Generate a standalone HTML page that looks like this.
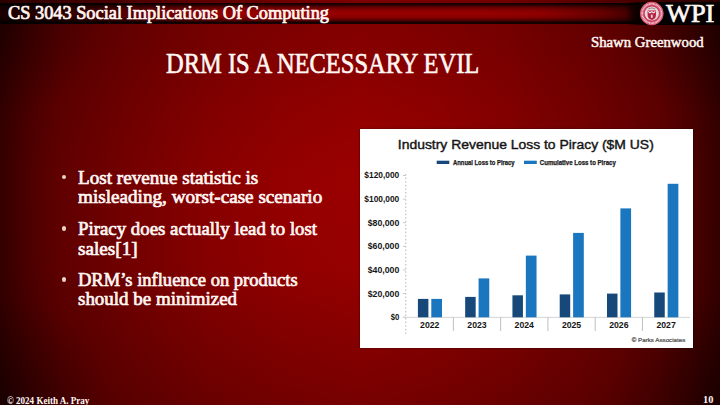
<!DOCTYPE html>
<html><head><meta charset="utf-8">
<style>
html,body{margin:0;padding:0;}
body{width:720px;height:405px;overflow:hidden;position:relative;background:radial-gradient(circle 110px at 0 100%, rgba(0,0,0,.35), rgba(0,0,0,0)), radial-gradient(circle 110px at 100% 100%, rgba(0,0,0,.35), rgba(0,0,0,0)), radial-gradient(circle 100px at 0 20px, rgba(0,0,0,.3), rgba(0,0,0,0)), radial-gradient(circle 100px at 100% 20px, rgba(0,0,0,.3), rgba(0,0,0,0)), linear-gradient(180deg, rgba(0,0,0,.17) 0px, rgba(0,0,0,.14) 36px, rgba(0,0,0,.06) 105px, rgba(0,0,0,0) 175px, rgba(0,0,0,.02) 265px, rgba(0,0,0,.2) 385px, rgba(0,0,0,.23) 405px), linear-gradient(90deg, #340000 0px, #4e0000 30px, #600000 60px, #760000 135px, #880000 210px, #940000 285px, #9a0000 360px, #940000 435px, #880000 510px, #760000 585px, #600000 660px, #4e0000 690px, #340000 720px);font-family:"Liberation Serif", serif;color:#fff;}
.t{position:absolute;white-space:nowrap;line-height:1;transform-origin:0 0;}
#bar{position:absolute;left:0;top:0;width:720px;height:25px;}
#bar .top{position:absolute;left:0;top:0;width:720px;height:3px;background:linear-gradient(90deg,#2a0000,#5a0000 25%,#7e0000 50%,#720000 70%,#500000 85%,#2a0000);}
#bar .band{position:absolute;left:0;top:3px;width:720px;height:21px;background:linear-gradient(180deg,#100000 0px,#200000 1.5px,#600000 4px,#880000 7px,#980000 10.5px,#8c0000 14px,#500000 17.5px,#100000 19.5px,#180000 20.5px,#400000 21px);}
#bar .hshade{position:absolute;left:0;top:3px;width:720px;height:21px;background:linear-gradient(90deg,rgba(0,0,0,.82) 0px,rgba(0,0,0,.72) 60px,rgba(0,0,0,.45) 120px,rgba(0,0,0,.18) 180px,rgba(0,0,0,0) 235px,rgba(0,0,0,0) 480px,rgba(0,0,0,.05) 540px,rgba(0,0,0,.3) 600px,rgba(0,0,0,.5) 625px,rgba(0,0,0,.9) 640px,rgba(0,0,0,.95) 720px);}
.bul{position:absolute;width:4.6px;height:4.6px;border-radius:50%;background:#ecd2c4;}
#chart{position:absolute;left:360px;top:129px;width:333px;height:219px;background:#fff;box-shadow:0 0 2px rgba(0,0,0,.6);}
#chart text{font-family:"Liberation Sans", sans-serif;font-weight:bold;fill:#151515;}
.ct{font-size:12.8px;font-weight:normal !important;stroke:#151515;stroke-width:0.4px;}
.lg{font-size:6.3px;fill:#1a1a1a !important;stroke:#1a1a1a;stroke-width:0.25px;}
.yl{font-size:8.4px;}
.xl{font-size:8.7px;}
.pa{font-size:5.6px;font-weight:normal !important;fill:#4a4a4a !important;stroke:#4a4a4a;stroke-width:0.2px;}
</style></head>
<body>
<div id="bar"><div class="top"></div><div class="band"></div><div class="hshade"></div></div>
<div class="t" id="hdr" style="left:7.8px;top:4.79px;font-size:17.8px;font-weight:normal;transform:scale(1.03,1.0);-webkit-text-stroke:0.7px #fff7f4;color:#fff7f4;">CS 3043 Social Implications Of Computing</div>
<div style="position:absolute;left:626px;top:2px;width:94px;height:23px;background:linear-gradient(90deg,rgba(8,0,0,0),rgba(8,0,0,.9) 14px,rgba(5,0,0,1) 24px)"></div>
<svg style="position:absolute;left:638px;top:0px" width="28" height="28" viewBox="0 0 28 28">
 <circle cx="13.8" cy="13.5" r="11.7" fill="#cf4c68"/>
 <circle cx="13.8" cy="13.5" r="11.2" fill="none" stroke="#e06a84" stroke-width="0.6"/>
 <circle cx="13.8" cy="13.5" r="9.6" fill="none" stroke="#f6d4dc" stroke-width="1.7" stroke-dasharray="0.9 0.5"/>
 <circle cx="13.8" cy="13.5" r="7.9" fill="#c83a58"/>
 <circle cx="13.8" cy="13.5" r="7.1" fill="#e6d8da"/>
 <path d="M10.4 8.9 q3.4 -1.8 6.8 0" fill="none" stroke="#9a8a8e" stroke-width="1.1"/>
 <path d="M9.6 10.6 h8.4 v4.2 q0 4.2 -4.2 5.2 q-4.2 -1 -4.2 -5.2z" fill="#b52242"/>
 <path d="M10.2 11.4 l1.6 1.3 l2 -1 l2 1 l1.6 -1.3" fill="none" stroke="#f4e8ea" stroke-width="1.2"/>
 <rect x="12.9" y="14.6" width="1.8" height="3.2" fill="#e8d0d4"/>
</svg>
<div class="t" id="wpi" style="left:665.6px;top:1.24px;font-size:25.5px;font-weight:normal;transform:scale(1.035,1.0);-webkit-text-stroke:0.7px #fff7f4;color:#fff7f4;">WPI</div>
<div class="t" id="shawn" style="left:590.6px;top:36.01px;font-size:13.6px;font-weight:normal;transform:scale(1.085,1.0);-webkit-text-stroke:0.45px #fff7f4;color:#fff7f4;">Shawn Greenwood</div>
<div class="t" id="title" style="left:165.5px;top:49.85px;font-size:28.6px;font-weight:normal;transform:scale(0.8562,1.0);-webkit-text-stroke:0.6px #fff7f4;color:#fff7f4;">DRM IS A NECESSARY EVIL</div>
<div class="bul" style="left:61.550000000000004px;top:174.79999999999998px"></div>
<div class="bul" style="left:61.550000000000004px;top:226.29999999999998px"></div>
<div class="bul" style="left:61.550000000000004px;top:277.0px"></div>
<div class="t" id="b1" style="left:77.5px;top:168.09px;font-size:19.0px;font-weight:normal;transform:scale(1.0075,1.0);-webkit-text-stroke:0.7px #fff7f4;color:#fff7f4;">Lost revenue statistic is</div>
<div class="t" id="b2" style="left:77.5px;top:187.49px;font-size:19.0px;font-weight:normal;transform:scale(1.0086,1.0);-webkit-text-stroke:0.7px #fff7f4;color:#fff7f4;">misleading, worst-case scenario</div>
<div class="t" id="b3" style="left:77.5px;top:219.09px;font-size:19.0px;font-weight:normal;transform:scale(0.9916,1.0);-webkit-text-stroke:0.7px #fff7f4;color:#fff7f4;">Piracy does actually lead to lost</div>
<div class="t" id="b4" style="left:77.5px;top:238.69px;font-size:19.0px;font-weight:normal;transform:scale(1.0098,1.0);-webkit-text-stroke:0.7px #fff7f4;color:#fff7f4;">sales[1]</div>
<div class="t" id="b5" style="left:77.5px;top:269.89px;font-size:19.0px;font-weight:normal;transform:scale(0.9745,1.0);-webkit-text-stroke:0.7px #fff7f4;color:#fff7f4;">DRM&#8217;s influence on products</div>
<div class="t" id="b6" style="left:77.5px;top:289.49px;font-size:19.0px;font-weight:normal;transform:scale(0.9983,1.0);-webkit-text-stroke:0.7px #fff7f4;color:#fff7f4;">should be minimized</div>
<div id="chart">
<svg width="333" height="219" viewBox="0 0 333 219" style="position:absolute;left:0;top:0">
<text x="37.8" y="19.9" class="ct" textLength="256" lengthAdjust="spacingAndGlyphs">Industry Revenue Loss to Piracy ($M US)</text>
<rect x="76.7" y="31.7" width="12.6" height="3.3" fill="#16497a"/>
<text x="93.0" y="36.0" class="lg" textLength="61.6" lengthAdjust="spacingAndGlyphs">Annual Loss to Piracy</text>
<rect x="164.0" y="31.7" width="12.8" height="3.3" fill="#1a76bf"/>
<text x="179.8" y="36.0" class="lg" textLength="76" lengthAdjust="spacingAndGlyphs">Cumulative Loss to Piracy</text>
<line x1="45.7" y1="45" x2="45.7" y2="205" stroke="#c8c8c8" stroke-width="1.3" stroke-dasharray="1.6 2.0"/>
<line x1="42.8" y1="188.20" x2="45.7" y2="188.20" stroke="#c4c4c4" stroke-width="0.9"/>
<text x="39.3" y="191.15" text-anchor="end" class="yl" textLength="8.6" lengthAdjust="spacingAndGlyphs">$0</text>
<line x1="42.8" y1="164.58" x2="45.7" y2="164.58" stroke="#c4c4c4" stroke-width="0.9"/>
<text x="39.3" y="167.53" text-anchor="end" class="yl" textLength="31.6" lengthAdjust="spacingAndGlyphs">$20,000</text>
<line x1="42.8" y1="140.97" x2="45.7" y2="140.97" stroke="#c4c4c4" stroke-width="0.9"/>
<text x="39.3" y="143.92" text-anchor="end" class="yl" textLength="31.6" lengthAdjust="spacingAndGlyphs">$40,000</text>
<line x1="42.8" y1="117.35" x2="45.7" y2="117.35" stroke="#c4c4c4" stroke-width="0.9"/>
<text x="39.3" y="120.30" text-anchor="end" class="yl" textLength="31.6" lengthAdjust="spacingAndGlyphs">$60,000</text>
<line x1="42.8" y1="93.73" x2="45.7" y2="93.73" stroke="#c4c4c4" stroke-width="0.9"/>
<text x="39.3" y="96.68" text-anchor="end" class="yl" textLength="31.6" lengthAdjust="spacingAndGlyphs">$80,000</text>
<line x1="42.8" y1="70.12" x2="45.7" y2="70.12" stroke="#c4c4c4" stroke-width="0.9"/>
<text x="39.3" y="73.07" text-anchor="end" class="yl" textLength="35.0" lengthAdjust="spacingAndGlyphs">$100,000</text>
<line x1="42.8" y1="46.50" x2="45.7" y2="46.50" stroke="#c4c4c4" stroke-width="0.9"/>
<text x="39.3" y="49.45" text-anchor="end" class="yl" textLength="35.0" lengthAdjust="spacingAndGlyphs">$120,000</text>
<line x1="43" y1="188.4" x2="330" y2="188.4" stroke="#cfcfcf" stroke-width="0.9"/>
<rect x="57.90" y="169.90" width="10.5" height="18.40" fill="#16497a"/>
<rect x="71.30" y="169.90" width="10.7" height="18.40" fill="#1a76bf"/>
<text x="69.74" y="199.30" text-anchor="middle" class="xl">2022</text>
<line x1="93.37" y1="188.4" x2="93.37" y2="202" stroke="#b8b8b8" stroke-width="0.9"/>
<rect x="105.17" y="167.90" width="10.5" height="20.40" fill="#16497a"/>
<rect x="118.57" y="149.40" width="10.7" height="38.90" fill="#1a76bf"/>
<text x="117.00" y="199.30" text-anchor="middle" class="xl">2023</text>
<line x1="140.64" y1="188.4" x2="140.64" y2="202" stroke="#b8b8b8" stroke-width="0.9"/>
<rect x="152.44" y="166.30" width="10.5" height="22.00" fill="#16497a"/>
<rect x="165.84" y="126.60" width="10.7" height="61.70" fill="#1a76bf"/>
<text x="164.28" y="199.30" text-anchor="middle" class="xl">2024</text>
<line x1="187.91" y1="188.4" x2="187.91" y2="202" stroke="#b8b8b8" stroke-width="0.9"/>
<rect x="199.71" y="165.40" width="10.5" height="22.90" fill="#16497a"/>
<rect x="213.11" y="103.90" width="10.7" height="84.40" fill="#1a76bf"/>
<text x="211.55" y="199.30" text-anchor="middle" class="xl">2025</text>
<line x1="235.18" y1="188.4" x2="235.18" y2="202" stroke="#b8b8b8" stroke-width="0.9"/>
<rect x="246.98" y="164.60" width="10.5" height="23.70" fill="#16497a"/>
<rect x="260.38" y="79.40" width="10.7" height="108.90" fill="#1a76bf"/>
<text x="258.82" y="199.30" text-anchor="middle" class="xl">2026</text>
<line x1="282.45" y1="188.4" x2="282.45" y2="202" stroke="#b8b8b8" stroke-width="0.9"/>
<rect x="294.25" y="163.50" width="10.5" height="24.80" fill="#16497a"/>
<rect x="307.65" y="54.80" width="10.7" height="133.50" fill="#1a76bf"/>
<text x="306.09" y="199.30" text-anchor="middle" class="xl">2027</text>
<text x="271.8" y="213.3" class="pa" textLength="53.5" lengthAdjust="spacingAndGlyphs">&#169; Parks Associates</text>
</svg>
</div>
<div class="t" id="foot" style="left:6.8px;top:396.73px;font-size:9.4px;font-weight:bold;transform:scale(0.965,1.0);color:#fff7f4;">&#169; 2024 Keith A. Pray</div>
<div class="t" id="pnum" style="left:702.8px;top:396.43px;font-size:9.4px;font-weight:bold;transform:scale(1.1,1.0);color:#fff7f4;">10</div>
</body></html>
